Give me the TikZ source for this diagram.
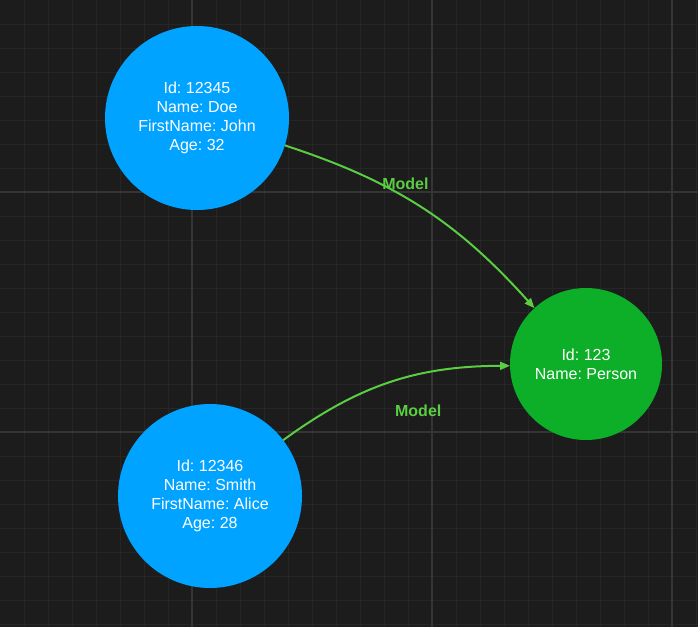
\documentclass[tikz,border=0pt]{standalone}
\usepackage{fontspec}
\setmainfont{Liberation Sans}
\usetikzlibrary{arrows.meta,positioning}
\definecolor{bg}{HTML}{1C1C1C}
\definecolor{minor}{HTML}{262626}
\definecolor{major}{HTML}{353535}
\definecolor{rec}{HTML}{00A3FF}
\definecolor{cls}{HTML}{0EAF28}
\definecolor{lnk}{HTML}{5ACD43}
\tikzset{obj/.style={circle,fill=rec,text=white,minimum size=184pt,inner sep=0pt,outer sep=0pt,
    align=center,font=\fontsize{16}{19}\selectfont},
  typ/.style={obj,fill=cls,minimum size=152pt},
  link/.style={draw=lnk,line width=2pt,-{Triangle[length=10pt,width=8pt]}},
  lbl/.style={text=lnk,font=\fontsize{16}{19}\selectfont\bfseries}}
\frenchspacing

\begin{document}
\begin{tikzpicture}[x=1pt,y=-1pt]
\fill[bg] (0,0) rectangle (698,627);
\useasboundingbox (0,0) rectangle (698,627);
% grid
\foreach \k in {1,...,29} \draw[minor,line width=1pt] (24*\k,0)--(24*\k,627);
\foreach \k in {1,...,26} \draw[minor,line width=1pt] (0,24*\k)--(698,24*\k);
\foreach \k in {192,432,672} \draw[major,line width=1.5pt] (\k,0)--(\k,627);
\foreach \k in {192,432} \draw[major,line width=1.5pt] (0,\k)--(698,\k);
% objects
\node[obj] (doe) at (197,118) {Id: 12345\\Name: Doe\\FirstName: John\\Age: 32};
\node[obj] (smith) at (210,496) {Id: 12346\\Name: Smith\\FirstName: Alice\\Age: 28};
\node[typ] (person) at (586,364) {Id: 123\\Name: Person};
% instance-of links
\draw[link] (doe) to[bend left=15] node[lbl,pos=0.43,above=4pt] {Model} (person);
\draw[link] (smith) to[bend left=18] node[lbl,pos=0.63,below=26pt] {Model} (person);
\end{tikzpicture}
\end{document}
